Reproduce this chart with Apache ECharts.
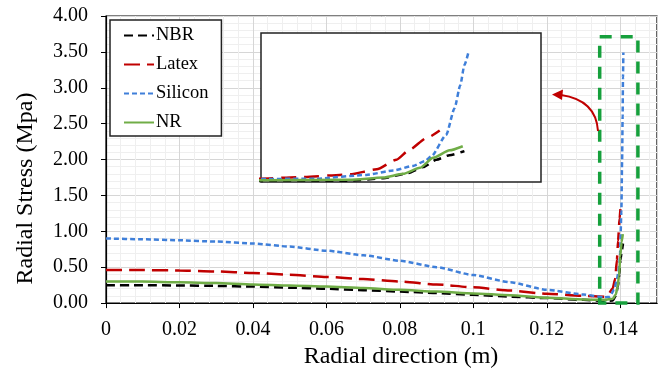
<!DOCTYPE html>
<html>
<head>
<meta charset="utf-8">
<script src="https://cdn.jsdelivr.net/npm/echarts@6/dist/echarts.min.js"></script>
<style>html,body{margin:0;padding:0;background:#fff}#c{width:666px;height:374px}</style>
</head>
<body>
<div id="c"></div>
<script>
// ---- data ----
var seriesNames = ['NBR', 'Latex', 'Silicon', 'NR'];
var yTicks = [0, 0.5, 1, 1.5, 2, 2.5, 3, 3.5, 4];
var xTicks = [0, 0.02, 0.04, 0.06, 0.08, 0.1, 0.12, 0.14];

var nbrX = [0,0.01,0.02,0.03,0.04,0.05,0.06,0.07,0.08,0.09,0.1,0.11,0.12,0.13,0.1358,0.13796,0.13877,0.13934,0.13974,0.14006,0.14038,0.14074];
var nbrY = [0.25,0.25,0.245,0.24,0.23,0.215,0.20,0.18,0.16,0.14,0.115,0.09,0.07,0.045,0.03,0.035,0.10,0.23,0.40,0.60,0.72,0.83];

var latexX = [0,0.01,0.02,0.03,0.04,0.05,0.06,0.07,0.08,0.09,0.1,0.11,0.12,0.13,0.1358,0.13675,0.13796,0.13861,0.13909,0.13941,0.13982,0.14014];
var latexY = [0.46,0.46,0.455,0.44,0.42,0.395,0.365,0.335,0.30,0.26,0.22,0.175,0.13,0.10,0.09,0.13,0.205,0.34,0.60,0.87,1.18,1.38];

var siliconX = [0,0.01,0.02,0.03,0.04,0.05,0.06,0.07,0.08,0.09,0.1,0.11,0.12,0.13,0.1358,0.13715,0.13836,0.13901,0.13949,0.13978,0.13994,0.1403,0.1405,0.14064,0.14074,0.14084];
var siliconY = [0.90,0.89,0.875,0.857,0.83,0.787,0.73,0.667,0.59,0.50,0.39,0.29,0.185,0.12,0.08,0.09,0.19,0.31,0.43,0.56,0.69,1.27,1.98,2.60,3.14,3.49];

var nrX = [0,0.01,0.02,0.03,0.04,0.05,0.06,0.07,0.08,0.09,0.1,0.11,0.12,0.13,0.1358,0.13796,0.13877,0.13925,0.13966,0.13998,0.14038,0.1407];
var nrY = [0.30,0.30,0.29,0.28,0.26,0.245,0.23,0.21,0.185,0.16,0.135,0.11,0.075,0.05,0.045,0.06,0.12,0.22,0.38,0.65,0.85,0.96];

// zoomed window shown in the inset, and the highlighted box (x range, y range)
var insetXRange = [0.1358, 0.1426];
var insetYRange = [0, 4];
var boxX = [0.1344, 0.1448];
var boxY = [0, 3.71];

// ---- build ----
function pairs(xs, ys) { return xs.map(function (x, i) { return [x, ys[i]]; }); }
var colors = { NBR: '#000000', Latex: '#c00000', Silicon: '#3f7fd9', NR: '#70ad47' };
var dashes = { NBR: [9, 5], Latex: [16, 7], Silicon: [5, 3], NR: 'solid' };
var dashesInset = { NBR: [8, 6], Latex: [15, 8], Silicon: [5, 3], NR: 'solid' };
var dataMap = {
  NBR: pairs(nbrX, nbrY), Latex: pairs(latexX, latexY),
  Silicon: pairs(siliconX, siliconY), NR: pairs(nrX, nrY)
};
var font = 'Liberation Serif';

var series = [];
seriesNames.forEach(function (n) {
  series.push({
    name: n, type: 'line', xAxisIndex: 0, yAxisIndex: 0,
    data: dataMap[n], symbol: 'none', smooth: 0.2, smoothMonotone: 'x',
    lineStyle: { color: colors[n], width: 2.5, type: dashes[n] },
    itemStyle: { color: colors[n] }, z: 2
  });
});
seriesNames.forEach(function (n) {
  series.push({
    name: n, type: 'line', xAxisIndex: 1, yAxisIndex: 1,
    data: dataMap[n], symbol: 'none', smooth: 0.2, smoothMonotone: 'x', clip: true,
    lineStyle: { color: colors[n], width: 2.5, type: dashesInset[n] },
    itemStyle: { color: colors[n] }, z: 6
  });
});

var chart = echarts.init(document.getElementById('c'), null, { renderer: 'canvas' });
chart.setOption({
  animation: false,
  backgroundColor: '#fff',
  textStyle: { fontFamily: font },
  grid: [
    { left: 106, right: 9, top: 16, bottom: 70, show: true, borderColor: '#000', borderWidth: 1.2, z: 0 },
    { left: 261, top: 33, width: 280, height: 149, show: true, backgroundColor: '#fff', borderColor: '#222', borderWidth: 1.5, z: 5 }
  ],
  legend: {
    data: seriesNames, orient: 'vertical', left: 110, top: 20,
    padding: [6, 13, 4, 13], itemWidth: 30, itemHeight: 14, itemGap: 10,
    itemStyle: { opacity: 0 },
    backgroundColor: '#fff', borderColor: '#222', borderWidth: 1.5,
    textStyle: { fontFamily: font, fontSize: 18.5, color: '#000', padding: [0, 0, 0, -3] }, z: 8
  },
  xAxis: [
    {
      type: 'value', gridIndex: 0, min: 0, max: 0.15, interval: 0.02,
      name: 'Radial direction (m)', nameLocation: 'middle', nameGap: 40,
      nameTextStyle: { fontFamily: font, fontSize: 24, color: '#000', padding: [0, 0, 0, 39] },
      axisLine: { lineStyle: { color: '#000', width: 1.2 } },
      axisTick: { show: true, inside: false, length: 5, lineStyle: { color: '#000' } },
      axisLabel: {
        fontFamily: font, fontSize: 20, color: '#000', margin: 17, showMaxLabel: false,
        formatter: function (v) { return xTicks.indexOf(+v.toFixed(3)) >= 0 ? String(+v.toFixed(3)) : ''; }
      },
      splitLine: { show: true, lineStyle: { color: '#d6d6d6', width: 1 } },
      minorTick: { show: false, splitNumber: 5 },
      minorSplitLine: { show: true, lineStyle: { color: '#efefef', width: 1 } }
    },
    { type: 'value', gridIndex: 1, min: insetXRange[0], max: insetXRange[1], show: false, splitLine: { show: false } }
  ],
  yAxis: [
    {
      type: 'value', gridIndex: 0, min: yTicks[0], max: yTicks[yTicks.length - 1], interval: 0.5,
      name: 'Radial Stress (Mpa)', nameLocation: 'middle', nameGap: 68, nameRotate: 90,
      nameTextStyle: { fontFamily: font, fontSize: 24, color: '#000', padding: [0, 58, 0, 0] },
      axisLine: { show: true, lineStyle: { color: '#000', width: 1.2 } },
      axisTick: { show: true, inside: false, length: 5, lineStyle: { color: '#000' } },
      axisLabel: { fontFamily: font, fontSize: 20, color: '#000', margin: 18, formatter: function (v) { return v.toFixed(2); } },
      splitLine: { show: true, lineStyle: { color: '#d6d6d6', width: 1 } },
      minorTick: { show: false, splitNumber: 5 },
      minorSplitLine: { show: true, lineStyle: { color: '#efefef', width: 1 } }
    },
    { type: 'value', gridIndex: 1, min: insetYRange[0], max: insetYRange[1], show: false, splitLine: { show: false } }
  ],
  series: series
});

// dashed highlight box (through the main axes' scales) and the curved red arrow
var p1 = chart.convertToPixel({ gridIndex: 0 }, [boxX[0], boxY[1]]);
var p2 = chart.convertToPixel({ gridIndex: 0 }, [boxX[1], boxY[0]]);
chart.setOption({
  graphic: [
    {
      type: 'rect', z: 20, silent: true,
      shape: { x: p1[0], y: p1[1], width: p2[0] - p1[0], height: p2[1] - p1[1] },
      style: { fill: null, stroke: '#16a03c', lineWidth: 3.5, lineDash: [12, 9] }
    },
    {
      type: 'bezierCurve', z: 20, silent: true,
      shape: { x1: 598, y1: 131, cpx1: 596, cpy1: 100, x2: 561, y2: 95 },
      style: { stroke: '#c00000', lineWidth: 2, fill: null }
    },
    {
      type: 'polygon', z: 20, silent: true,
      shape: { points: [[552, 94.5], [563, 89.5], [562, 100]] },
      style: { fill: '#c00000' }
    }
  ]
});
</script>
</body>
</html>
